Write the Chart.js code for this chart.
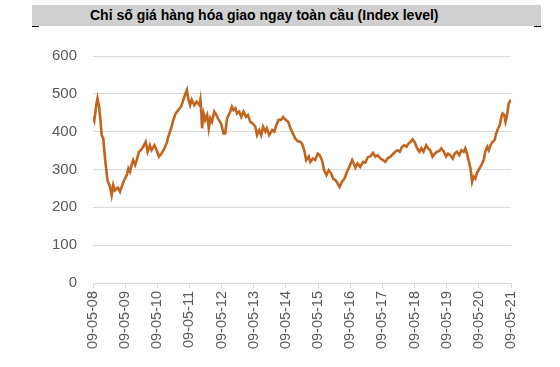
<!DOCTYPE html>
<html>
<head>
<meta charset="utf-8">
<script src="https://cdn.jsdelivr.net/npm/chart.js@4.4.1/dist/chart.umd.min.js"></script>
<style>
  html, body { margin: 0; padding: 0; background: #ffffff; }
  #wrap { position: relative; width: 560px; height: 367px; overflow: hidden; }
  #titlebar { position: absolute; left: 32px; top: 5px; width: 509px; height: 21px; background: #d0d0d0; }
  #title { position: absolute; left: 90px; top: 5px; height: 21px; line-height: 21px; font-family: "Liberation Sans", Arial, sans-serif; font-weight: bold; font-size: 14px; color: #000; white-space: nowrap; }
  .dash { position: absolute; top: 26px; height: 1px; width: 7px; background: #000; }
  #c { position: absolute; left: 0; top: 0; }
</style>
</head>
<body>
<div id="wrap">
  <div id="titlebar"></div>
  <div id="title">Chỉ số giá hàng hóa giao ngay toàn cầu (Index level)</div>
  <div class="dash" style="left:32px"></div>
  <div class="dash" style="left:534px"></div>
  <canvas id="c" width="560" height="367"></canvas>
</div>
<script>
// Tick labels (one per year, dd-mm-yy)
const tickLabels = ["09-05-08","09-05-09","09-05-10","09-05-11","09-05-12","09-05-13","09-05-14",
                    "09-05-15","09-05-16","09-05-17","09-05-18","09-05-19","09-05-20","09-05-21"];
// Y axis tick values
const yTicks = [0, 100, 200, 300, 400, 500, 600];

// Time in years since 09-05-08
const yearsSinceStart = [
  0.01,0.04,0.11,0.14,0.19,0.24,0.27,0.32,0.35,0.39,0.45,0.53,0.58,0.63,0.68,0.77,0.84,0.89,0.97,
  1.05,1.10,1.15,1.20,1.25,1.31,1.36,1.43,1.49,1.56,1.64,1.70,1.77,1.82,1.91,1.98,
  2.05,2.13,2.22,2.29,2.34,2.43,2.50,2.57,2.65,2.74,2.81,2.86,2.92,2.96,
  3.02,3.07,3.15,3.22,3.31,3.34,3.37,3.39,3.44,3.49,3.55,3.60,3.65,3.70,3.77,3.84,3.91,3.98,
  4.06,4.11,4.17,4.22,4.27,4.32,4.37,4.43,4.48,4.55,4.61,4.68,4.76,4.82,4.89,4.96,
  5.05,5.10,5.17,5.23,5.29,5.36,5.41,5.48,5.57,5.64,5.70,5.77,5.86,5.91,5.98,
  6.07,6.14,6.22,6.29,6.36,6.45,6.50,6.57,6.63,6.71,6.76,6.84,6.91,6.99,
  7.05,7.12,7.19,7.26,7.33,7.40,7.47,7.54,7.61,7.67,7.74,7.82,7.90,7.97,
  8.06,8.11,8.16,8.23,8.31,8.40,8.47,8.54,8.63,8.71,8.78,8.85,8.94,
  9.02,9.09,9.16,9.25,9.33,9.40,9.47,9.54,9.61,9.68,9.75,9.82,9.87,9.94,
  10.00,10.08,10.15,10.21,10.28,10.36,10.42,10.49,10.56,10.63,10.70,10.77,10.83,10.91,10.98,
  11.04,11.11,11.19,11.25,11.32,11.39,11.46,11.53,11.58,11.63,11.68,11.74,11.77,11.79,11.84,11.89,11.94,
  12.02,12.08,12.15,12.20,12.26,12.31,12.36,12.43,12.49,12.54,12.60,12.65,12.70,12.74,12.79,12.83,12.88,12.93,12.98,13.00
];
// Index level
const indexLevel = [
  439,430,475,488,466,422,391,382,351,316,272,254,232,259,245,252,241,254,272,
  285,303,294,312,325,312,325,347,351,360,373,347,364,351,364,351,
  334,342,356,369,386,409,431,448,457,466,484,497,510,488,
  470,484,470,479,470,484,448,409,448,431,444,409,435,426,453,444,431,422,
  395,395,435,444,453,466,457,462,448,453,439,453,439,444,426,422,
  413,391,404,391,413,400,409,391,404,400,417,431,432,439,432,
  426,409,395,382,375,373,368,351,325,334,320,329,325,342,
  338,325,298,285,298,290,276,272,263,254,267,276,294,307,
  325,316,305,316,307,320,318,332,335,344,334,338,329,
  325,320,329,334,341,347,351,347,360,364,360,369,373,380,
  373,356,347,356,347,364,356,351,334,342,347,349,356,347,334,
  342,338,329,342,347,338,351,347,356,342,325,303,281,267,281,276,290,
  303,312,325,347,360,351,364,373,378,395,409,417,439,448,444,426,444,475,482,485
];

const points = yearsSinceStart.map((x, i) => ({ x: x, y: indexLevel[i] }));
const labelFont = { family: "'Liberation Sans', Arial, sans-serif" };

new Chart(document.getElementById('c'), {
  type: 'line',
  data: {
    datasets: [{
      data: points,
      borderColor: '#c2641e',
      borderWidth: 2.6,
      pointRadius: 0,
      tension: 0,
      fill: false
    }]
  },
  options: {
    responsive: false,
    animation: false,
    events: [],
    layout: { padding: { top: 56, left: 0, right: 49, bottom: 0 } },
    plugins: { legend: { display: false }, tooltip: { enabled: false }, title: { display: false } },
    scales: {
      x: {
        type: 'linear',
        min: 0,
        max: tickLabels.length - 1,
        afterFit: s => { s.height = 84; },
        afterBuildTicks: s => { s.ticks = tickLabels.map((_, i) => ({ value: i })); },
        grid: { drawOnChartArea: false, drawTicks: true, tickLength: 5, color: '#d9d9d9' },
        border: { display: true, color: '#d9d9d9' },
        ticks: {
          autoSkip: false,
          minRotation: 90,
          maxRotation: 90,
          padding: 3,
          color: '#595959',
          font: Object.assign({ size: 14.5 }, labelFont),
          callback: v => tickLabels[Math.round(v)]
        }
      },
      y: {
        min: 0,
        max: 600,
        afterFit: s => { s.width = 93; },
        afterBuildTicks: s => { s.ticks = yTicks.map(v => ({ value: v })); },
        grid: { drawTicks: false, color: '#d9d9d9', lineWidth: 1 },
        border: { display: false },
        ticks: {
          padding: 16,
          color: '#595959',
          font: Object.assign({ size: 15 }, labelFont)
        }
      }
    }
  }
});
</script>
</body>
</html>
